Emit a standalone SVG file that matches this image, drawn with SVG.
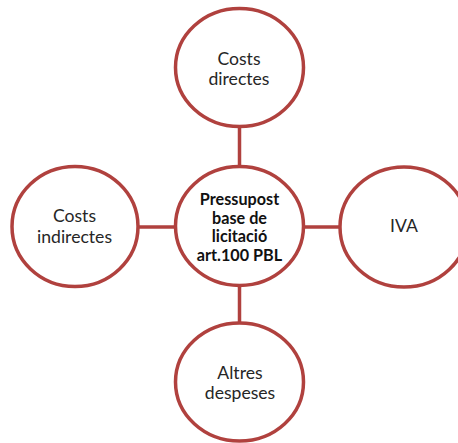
<svg xmlns="http://www.w3.org/2000/svg" width="458" height="443" viewBox="0 0 458 443">
<style>
.c{fill:#fff;stroke:#B0413E;stroke-width:3.5}
.l{stroke:#B0413E;stroke-width:3.5;fill:none}
.t{font-family:Lato,"Open Sans","Liberation Sans",sans-serif;font-size:17.6px;fill:#262626;text-anchor:middle}
.b{font-family:Lato,"Open Sans","Liberation Sans",sans-serif;font-size:16.2px;font-weight:bold;fill:#111;text-anchor:middle}
</style>
<rect width="458" height="443" fill="#fff"/>
<g id="connectors">
<line class="l" x1="239.5" y1="126" x2="239.5" y2="167"/>
<line class="l" x1="239.5" y1="285" x2="239.5" y2="323"/>
<line class="l" x1="138" y1="227" x2="176" y2="227"/>
<line class="l" x1="303" y1="227" x2="340" y2="227"/>
</g>
<g id="center">
<ellipse class="c" cx="239.5" cy="226" rx="64" ry="59.5"/>
<text class="b" x="239.5" y="205">Pressupost</text>
<text class="b" x="239.5" y="223.5">base de</text>
<text class="b" x="239.5" y="242">licitació</text>
<text class="b" x="239.5" y="261">art.100 PBL</text>
</g>
<g id="top">
<ellipse class="c" cx="239.5" cy="67.5" rx="64" ry="59"/>
<text class="t" x="239" y="64.5">Costs</text>
<text class="t" x="239" y="85">directes</text>
</g>
<g id="left">
<ellipse class="c" cx="75" cy="226.5" rx="63" ry="60"/>
<text class="t" x="74.5" y="221.5">Costs</text>
<text class="t" x="74.5" y="242.5">indirectes</text>
</g>
<g id="right">
<ellipse class="c" cx="404" cy="227" rx="64" ry="60"/>
<text class="t" x="404" y="232">IVA</text>
</g>
<g id="bottom">
<ellipse class="c" cx="239.5" cy="382" rx="64" ry="59"/>
<text class="t" x="240" y="378.5">Altres</text>
<text class="t" x="240" y="399">despeses</text>
</g>
</svg>
